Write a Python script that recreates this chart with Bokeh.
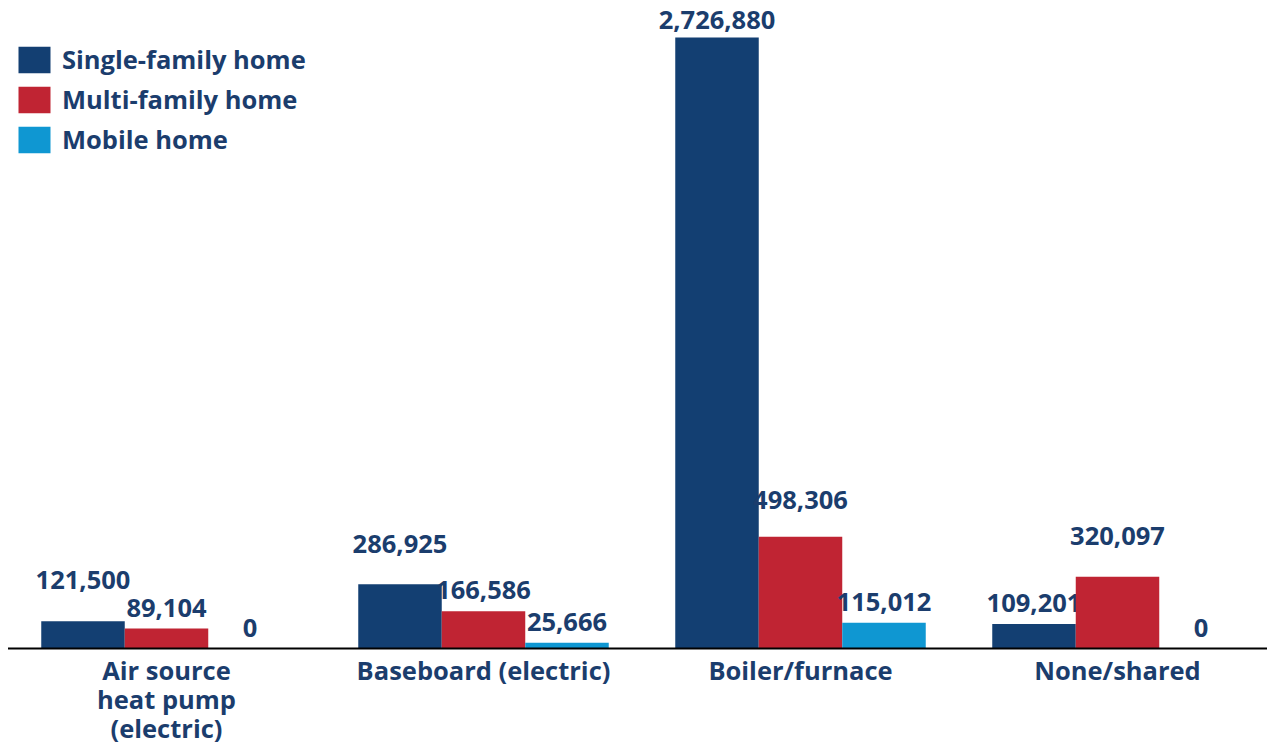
from bokeh.plotting import figure
from bokeh.models import Range1d, Legend, LegendItem, ColumnDataSource
from bokeh.core.properties import value
from bokeh.embed import file_html
from bokeh.resources import INLINE

categories = ["Air source\nheat pump\n(electric)", "Baseboard (electric)", "Boiler/furnace", "None/shared"]
series_names = ["Single-family home", "Multi-family home", "Mobile home"]
single_family = [121500, 286925, 2726880, 109201]
multi_family = [89104, 166586, 498306, 320097]
mobile_home = [0, 25666, 115012, 0]
# label lift above bar top (px): style only
lift_single = [32, 31, 9, 12]
lift_multi = [12, 12, 28, 32]
lift_mobile = [12, 12, 12, 12]

colors = ["#133f72", "#c02433", "#0f97d2"]
text_color = "#1b3d6d"
FONT = "Open Sans"
FS = "25.5px"

px_per_unit = 2726880 / 611.0
p = figure(width=1267, height=745, output_backend="svg", toolbar_location=None,
           x_range=Range1d(-166 / 317, (1267 - 166) / 317),
           y_range=Range1d(-97 * px_per_unit, 648 * px_per_unit),
           x_axis_location=None, y_axis_location=None, min_border=0)
p.grid.visible = False
p.outline_line_color = None
p.background_fill_color = "white"

bw = 83.5 / 317
renderers = []
all_vals = [single_family, multi_family, mobile_home]
all_lifts = [lift_single, lift_multi, lift_mobile]
for k, (vals, lifts, col) in enumerate(zip(all_vals, all_lifts, colors)):
    xs = [i + (k - 1) * bw for i in range(len(categories))]
    src = ColumnDataSource(dict(x=xs, top=vals, lab=[f"{v:,}" for v in vals],
                                off=[-l for l in lifts]))
    r = p.vbar(x="x", top="top", bottom=0, width=bw, source=src, fill_color=col, line_color=None)
    renderers.append(r)
    p.text(x="x", y="top", text="lab", source=src, y_offset="off", text_align="center",
           text_baseline="bottom", text_font=value(FONT), text_font_style="bold",
           text_font_size=FS, text_color=text_color)

p.segment(x0=[-0.5], y0=[0], x1=[3.6], y1=[0], line_color="black", line_width=2)

p.text(x=list(range(len(categories))), y=[0] * len(categories), text=categories,
       y_offset=4, text_align="center", text_baseline="top", text_font=value(FONT),
       text_font_style="bold", text_font_size=FS, text_color=text_color,
       text_line_height=0.86)

legend = Legend(items=[LegendItem(label=n, renderers=[r]) for n, r in zip(series_names, renderers)],
                location=(14, 589), glyph_width=40, glyph_height=33, spacing=6, padding=0,
                margin=0, label_standoff=8, label_text_font=FONT, label_text_font_style="bold",
                label_text_font_size=FS, label_text_color=text_color,
                border_line_color=None, background_fill_alpha=0, label_height=33)
p.add_layout(legend)

open("out.html", "w").write(file_html(p, INLINE))
